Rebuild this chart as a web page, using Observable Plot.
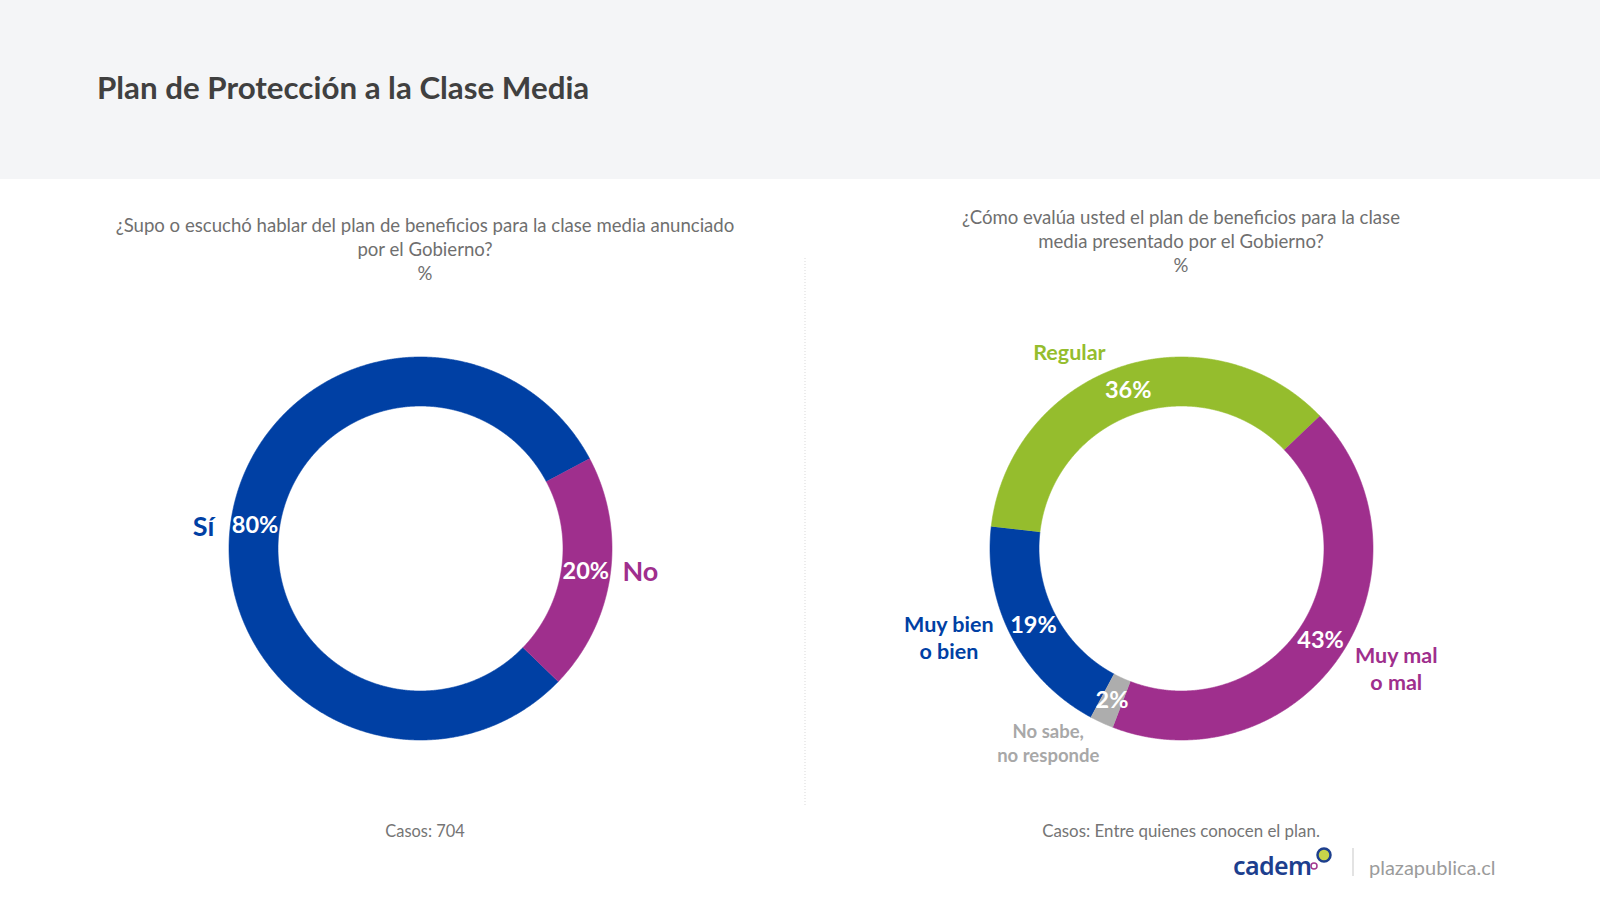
<!DOCTYPE html>
<html>
<head>
<meta charset="utf-8">
<script src="https://cdn.jsdelivr.net/npm/d3@7"></script>
<script src="https://cdn.jsdelivr.net/npm/@observablehq/plot@0.6"></script>
<style>
  html, body { margin: 0; padding: 0; }
  body { width: 1600px; height: 901px; position: relative; overflow: hidden; background: #ffffff; font-family: Lato, "Open Sans", sans-serif; }
  #overlay { position: absolute; left: 0; top: 0; }
  .chart { position: absolute; }
  .chart svg { background: transparent; overflow: visible; }
</style>
</head>
<body>
<svg id="overlay" width="1600" height="901"></svg>
<div id="left" class="chart"></div>
<div id="right" class="chart"></div>
<script>
// ---------- DATA ----------
const title = "Plan de Protección a la Clase Media";

const leftQuestion = ["¿Supo o escuchó hablar del plan de beneficios para la clase media anunciado", "por el Gobierno?", "%"];
const leftCategories = ["Sí", "No"];
const leftLabels = ["Sí", "No"];
const leftValues = [80, 20];
const leftColors = ["#0040a4", "#9f2f8d"];
const leftCaption = "Casos: 704";

const rightQuestion = ["¿Cómo evalúa usted el plan de beneficios para la clase", "media presentado por el Gobierno?", "%"];
const rightCategories = ["Muy bien o bien", "Regular", "Muy mal o mal", "No sabe, no responde"];
const rightLabels = ["Muy bien\no bien", "Regular", "Muy mal\no mal", "No sabe,\nno responde"];
const rightValues = [19, 36, 43, 2];
const rightColors = ["#0040a4", "#95bd2d", "#9f2f8d", "#adadad"];
const rightCaption = "Casos: Entre quienes conocen el plan.";

// ---------- LAYOUT ----------
const W = 640, H = 580;
const R_OUT = 191.5, R_IN = 142.5, R_MID = (R_OUT + R_IN) / 2;
const deg = Math.PI / 180;

function donut({categories, labels, values, colors, startDeg, outer}) {
  const rows = categories.map((c, i) => ({cat: c, label: labels[i], value: values[i]}));
  const arcs = d3.pie().sort(null).value(d => d.value)
    .startAngle(startDeg * deg).endAngle(startDeg * deg + 2 * Math.PI)(rows);
  const pts = [];
  for (const a of arcs) {
    const n = Math.max(8, Math.ceil((a.endAngle - a.startAngle) / 0.005));
    for (let k = 0; k <= n; k++) {
      const t = a.startAngle + (a.endAngle - a.startAngle) * k / n;
      pts.push({cat: a.data.cat, x: R_OUT * Math.sin(t), y: R_OUT * Math.cos(t)});
    }
    for (let k = n; k >= 0; k--) {
      const t = a.startAngle + (a.endAngle - a.startAngle) * k / n;
      pts.push({cat: a.data.cat, x: R_IN * Math.sin(t), y: R_IN * Math.cos(t)});
    }
  }
  const mid = a => (a.startAngle + a.endAngle) / 2;
  const marks = [
    Plot.line(pts, {x: "x", y: "y", z: "cat", fill: "cat", stroke: "cat", strokeWidth: 0.6, curve: "linear"}),
    Plot.text(arcs, {
      x: a => R_MID * Math.sin(mid(a)), y: a => R_MID * Math.cos(mid(a)),
      text: a => `${a.data.value}%`, fill: "white", fontWeight: 700, fontSize: 23.5,
      fontFamily: "Lato, sans-serif"
    })
  ];
  for (const o of outer) {
    const sel = arcs.filter(a => a.data.cat === o.cat);
    marks.push(Plot.text(sel, {
      x: a => o.r * Math.sin(mid(a)), y: a => o.r * Math.cos(mid(a)),
      text: a => a.data.label, fill: o.color, fontWeight: 700, fontSize: o.size,
      lineHeight: o.lh || 1.25, dx: o.dx, dy: o.dy, fontFamily: "Lato, sans-serif"
    }));
  }
  return Plot.plot({
    width: W, height: H, margin: 0,
    x: {domain: [-W / 2, W / 2], axis: null},
    y: {domain: [-H / 2, H / 2], axis: null},
    color: {domain: categories, range: colors},
    style: {background: "transparent", overflow: "visible"},
    marks
  });
}

const leftCenter = [420, 548], rightCenter = [1181, 548];

const leftEl = document.getElementById("left");
leftEl.style.left = (leftCenter[0] - W / 2) + "px";
leftEl.style.top = (leftCenter[1] - H / 2) + "px";
leftEl.appendChild(donut({
  categories: leftCategories, labels: leftLabels, values: leftValues, colors: leftColors, startDeg: 134,
  outer: [
    {cat: "Sí", r: 218, dx: -1, dy: 7, color: "#0040a4", size: 27},
    {cat: "No", r: 222, dx: 0, dy: -9, color: "#9f2f8d", size: 27}
  ]
}));

const rightEl = document.getElementById("right");
rightEl.style.left = (rightCenter[0] - W / 2) + "px";
rightEl.style.top = (rightCenter[1] - H / 2) + "px";
rightEl.appendChild(donut({
  categories: rightCategories, labels: rightLabels, values: rightValues, colors: rightColors, startDeg: 208.2,
  outer: [
    {cat: "Muy bien o bien", r: 249, dx: -12, dy: -27, color: "#0040a4", size: 21.5},
    {cat: "Regular", r: 226, dx: -40, dy: 17, color: "#95bd2d", size: 21.5},
    {cat: "Muy mal o mal", r: 247, dx: 9, dy: -17, color: "#9f2f8d", size: 21.5},
    {cat: "No sabe, no responde", r: 236, dx: -35, dy: -21, color: "#a8a8a8", size: 18.5, lh: 1.32}
  ]
}));

// ---------- OVERLAY TEXT ----------
const svg = d3.select("#overlay");
svg.append("rect").attr("x", 0).attr("y", 0).attr("width", 1600).attr("height", 179).attr("fill", "#f4f5f7");
svg.append("text").attr("x", 97).attr("y", 99).attr("font-size", 31.3).attr("font-weight", 700)
  .attr("fill", "#404040").attr("font-family", "Lato, sans-serif").text(title);

function question(lines, cx, baselines) {
  lines.forEach((t, i) => svg.append("text").attr("x", cx).attr("y", baselines[i])
    .attr("text-anchor", "middle").attr("font-size", 18.6).attr("fill", "#6f6f6f")
    .attr("font-family", "Lato, sans-serif").text(t));
}
question(leftQuestion, 425, [231.5, 255.5, 279.5]);
question(rightQuestion, 1181, [223.5, 247.5, 271.5]);

svg.append("line").attr("x1", 805).attr("x2", 805).attr("y1", 258).attr("y2", 806)
  .attr("stroke", "#d9d9d9").attr("stroke-width", 1).attr("stroke-dasharray", "1,2");

svg.append("text").attr("x", 425).attr("y", 837).attr("text-anchor", "middle").attr("font-size", 16.4)
  .attr("fill", "#757575").attr("font-family", "Lato, sans-serif").text(leftCaption);
svg.append("text").attr("x", 1181).attr("y", 837).attr("text-anchor", "middle").attr("font-size", 16.9)
  .attr("fill", "#757575").attr("font-family", "Lato, sans-serif").text(rightCaption);

// logo
svg.append("text").attr("x", 1233).attr("y", 875).attr("font-size", 25).attr("font-weight", 600)
  .attr("fill", "#1d3f8e").attr("font-family", "'Noto Sans', sans-serif").attr("letter-spacing", -0.6).text("cadem");
svg.append("circle").attr("cx", 1324).attr("cy", 855).attr("r", 6.5).attr("fill", "#c8d44a").attr("stroke", "#1d3f8e").attr("stroke-width", 2.5);
svg.append("circle").attr("cx", 1314).attr("cy", 866).attr("r", 3).attr("fill", "#fff").attr("stroke", "#a2378f").attr("stroke-width", 1.5);
svg.append("line").attr("x1", 1353).attr("x2", 1353).attr("y1", 848).attr("y2", 876).attr("stroke", "#d0d0d0").attr("stroke-width", 1.2);
svg.append("text").attr("x", 1369).attr("y", 875).attr("font-size", 20).attr("fill", "#9b9b9b")
  .attr("font-family", "Lato, sans-serif").text("plazapublica.cl");
</script>
</body>
</html>
